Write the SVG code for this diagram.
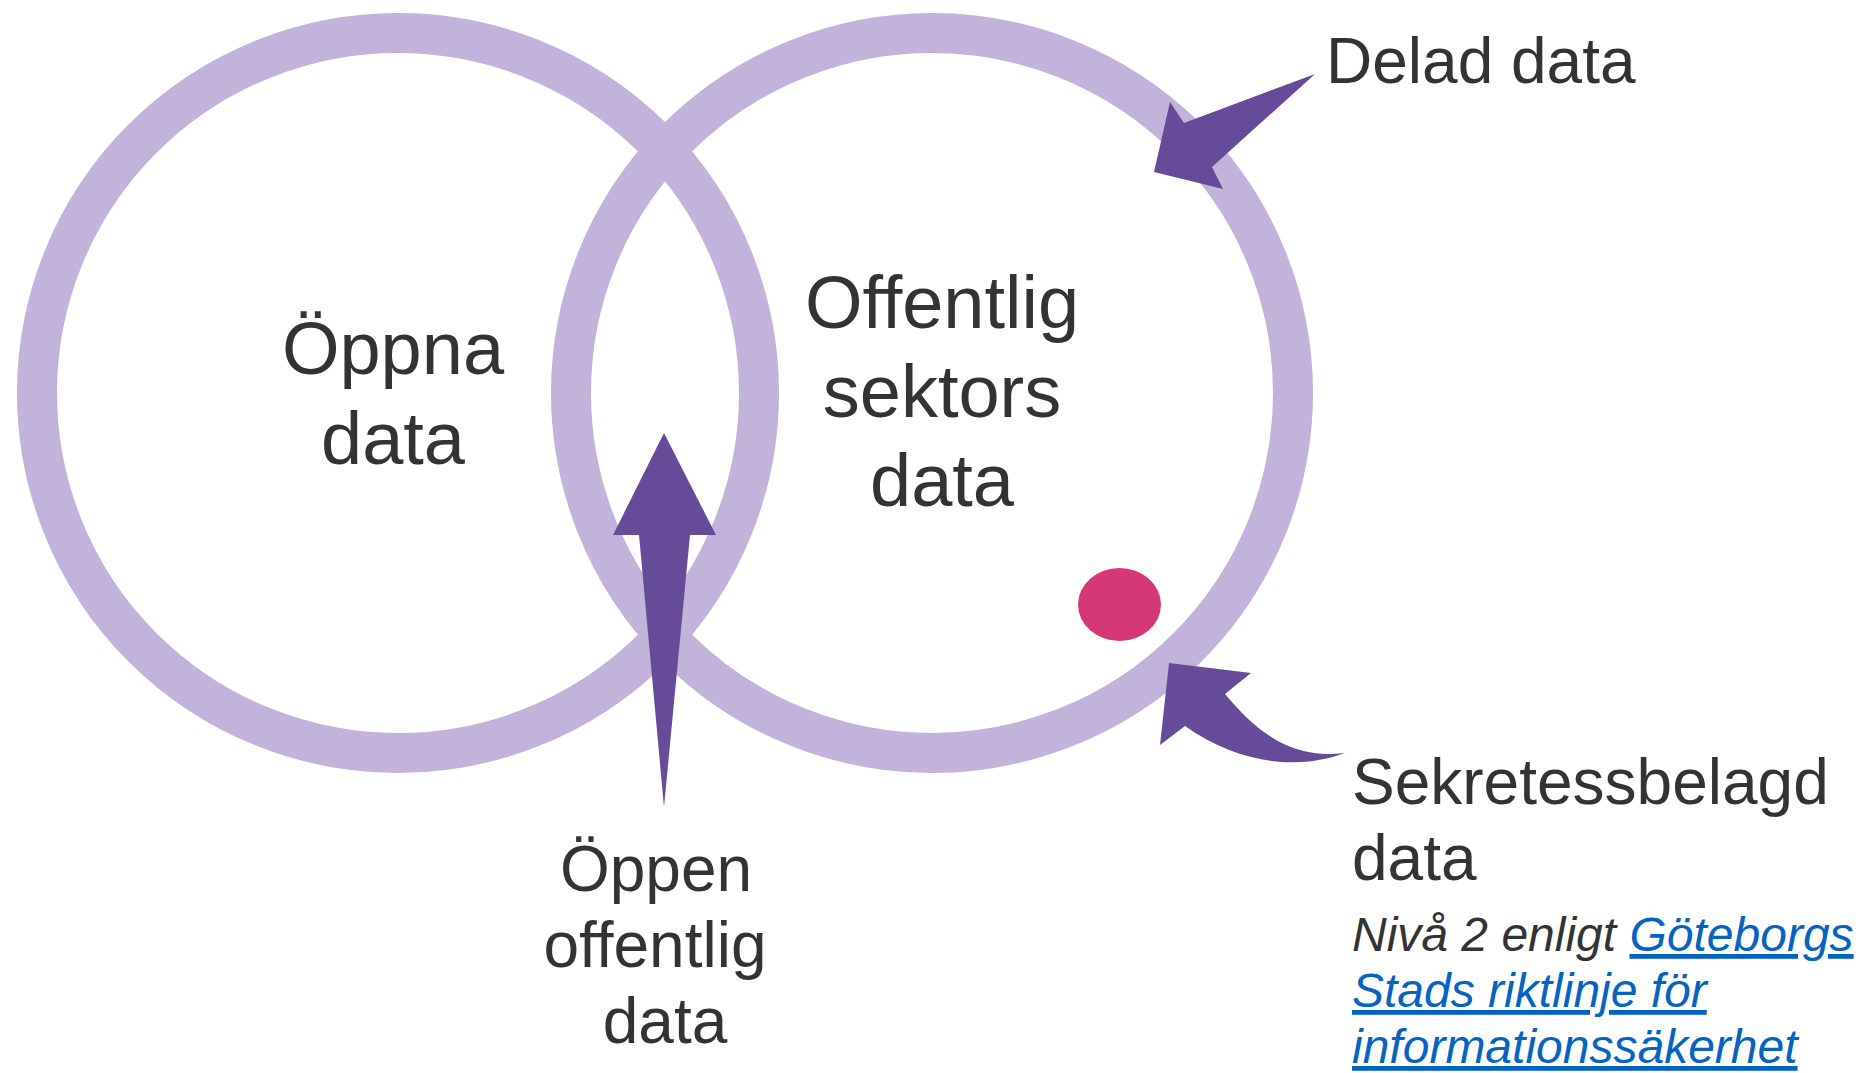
<svg xmlns="http://www.w3.org/2000/svg" width="1860" height="1073" viewBox="0 0 1860 1073">
<style>
.ring{fill:none;stroke:#C1B3DA;stroke-width:40}
.arr{fill:#664C98}
.t{font-family:"Liberation Sans",Arial,sans-serif;fill:#333333}
.big{font-size:74px}
.mid{font-size:64px}
.note{font-size:48px;font-style:italic}
.link{fill:#0563C1;text-decoration:underline}
</style>
<rect width="1860" height="1073" fill="#FFFFFF"/>
<g id="circle-open">
<ellipse class="ring" cx="398" cy="393" rx="361" ry="360"/>
<text class="t big" text-anchor="middle"><tspan x="393" y="374">Öppna</tspan><tspan x="393" y="464">data</tspan></text>
</g>
<g id="circle-public">
<ellipse class="ring" cx="932" cy="393" rx="361" ry="360"/>
<text class="t big" text-anchor="middle"><tspan x="942" y="328">Offentlig</tspan><tspan x="942" y="417">sektors</tspan><tspan x="942" y="506">data</tspan></text>
</g>
<g id="secret-dot">
<ellipse cx="1119.5" cy="604.5" rx="41.5" ry="36.5" fill="#D53877"/>
</g>
<g id="connectors">
<polygon class="arr" points="664,433 716,535 690,535 664,807 639,535 613,535"/>
<polygon class="arr" points="1315,74 1184,123 1170,102 1154,172 1223,189 1212,167"/>
<path class="arr" d="M1160,745 L1169,663 L1251,673 L1225,694 C1255,730 1290,760 1345,753 C1300,770 1240,765 1185,726 Z"/>
</g>
<g id="label-open-public">
<text class="t mid" text-anchor="middle"><tspan x="656" y="891">Öppen</tspan><tspan x="655" y="967">offentlig</tspan><tspan x="665" y="1043">data</tspan></text>
</g>
<g id="label-shared">
<text class="t mid" x="1326" y="83">Delad data</text>
</g>
<g id="label-secret">
<text class="t mid"><tspan x="1352" y="804">Sekretessbelagd</tspan><tspan x="1352" y="880">data</tspan></text>
<text class="t note"><tspan x="1352" y="951">Nivå 2 enligt <tspan class="link">Göteborgs</tspan></tspan><tspan x="1352" y="1007" class="link">Stads riktlinje för</tspan><tspan x="1352" y="1063" class="link">informationssäkerhet</tspan></text>
</g>
</svg>
